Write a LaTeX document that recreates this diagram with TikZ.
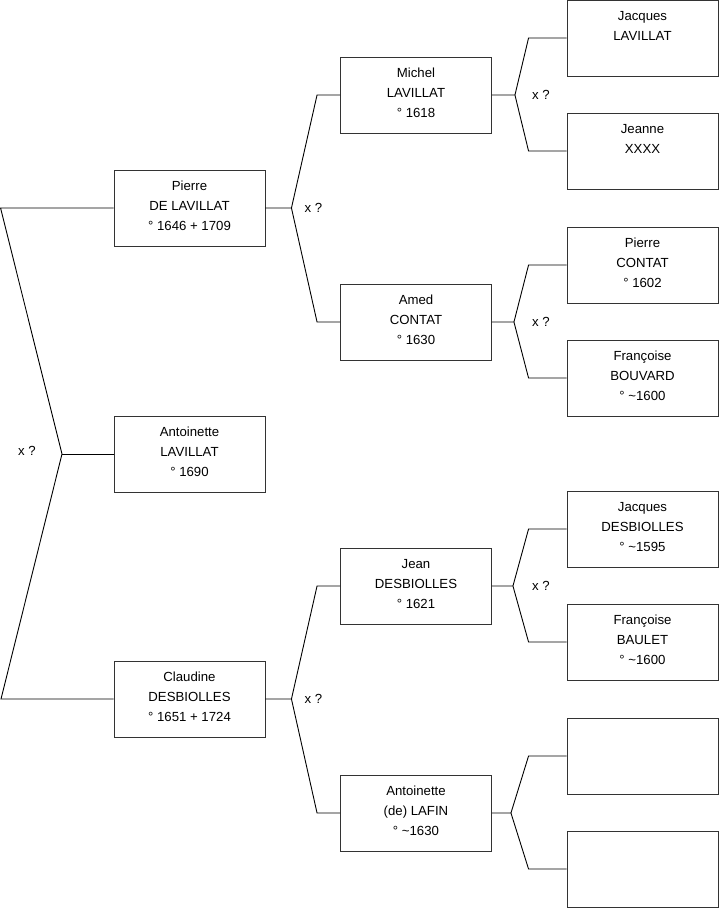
\documentclass[tikz,border=0pt]{standalone}
\usepackage{fontspec}
\setmainfont{Liberation Sans}
\begin{document}
\begin{tikzpicture}[
    x=1pt, y=-1pt,
    every node/.style={font=\fontsize{13.2}{20}\selectfont},
    person/.style={
        draw=black!80, line width=0.9pt,
        minimum width=151pt, minimum height=76pt,
        inner sep=0pt, align=center, fill=white,
        text depth=4pt
    },
    link/.style={line width=0.9pt},
    forklbl/.style={anchor=west, inner sep=0pt}
]
\useasboundingbox (0,0) rectangle (719,908);

% =========================================================
% Generation 1
% =========================================================
\node[person] (pierre) at (189.5,208) {Pierre\\DE LAVILLAT\\° 1646 + 1709};
\node[person] (antoinette) at (189.5,454) {Antoinette\\LAVILLAT\\° 1690};
\node[person] (claudine) at (189.5,699) {Claudine\\DESBIOLLES\\° 1651 + 1724};

% =========================================================
% Generation 2
% =========================================================
\node[person] (michel) at (416,95) {Michel\\LAVILLAT\\° 1618};
\node[person] (amed) at (416,322) {Amed\\CONTAT\\° 1630};
\node[person] (jean) at (416,586) {Jean\\DESBIOLLES\\° 1621};
\node[person] (lafin) at (416,813) {Antoinette\\(de) LAFIN\\° \textasciitilde1630};

% =========================================================
% Generation 3
% =========================================================
\node[person] (jacques) at (642.5,38) {Jacques\\LAVILLAT\\\strut};
\node[person] (jeanne) at (642.5,151) {Jeanne\\XXXX\\\strut};
\node[person] (pcontat) at (642.5,265) {Pierre\\CONTAT\\° 1602};
\node[person] (fbouvard) at (642.5,378) {Françoise\\BOUVARD\\° \textasciitilde1600};
\node[person] (jdesb) at (642.5,529) {Jacques\\DESBIOLLES\\° \textasciitilde1595};
\node[person] (fbaulet) at (642.5,642) {Françoise\\BAULET\\° \textasciitilde1600};
\node[person] (empty1) at (642.5,756) {};
\node[person] (empty2) at (642.5,869) {};

% =========================================================
% Liens
% =========================================================
% Antoinette <- parents
\coordinate (f0) at (62,454);
\draw[link] (pierre.west) -- ++(-113,0) -- (f0) -- ++(-61,245) -- (claudine.west);
\draw[link] (f0) -- (antoinette.west);
\node[forklbl] (x0) at (18,451) {x ?};

% Generation 1 -> 2
\foreach \child/\up/\down in {pierre/michel/amed, claudine/jean/lafin} {
    \draw[link] (\up.west) -- ++(-23,0) -- ([xshift=26]\child.east) -- (\child.east);
    \draw[link] ([xshift=26]\child.east) -- ([xshift=-23]\down.west) -- (\down.west);
    \node[forklbl] at ([xshift=39]\child.east) {x ?};
}

% Generation 2 -> 3
\foreach \child/\up/\down/\fk in {michel/jacques/jeanne/23, amed/pcontat/fbouvard/22,
                                   jean/jdesb/fbaulet/21, lafin/empty1/empty2/19} {
    \draw[link] (\up.west) -- ++(-38,0) -- ([xshift=\fk]\child.east) -- (\child.east);
    \draw[link] ([xshift=\fk]\child.east) -- ([xshift=-38]\down.west) -- (\down.west);
}
\node[forklbl] at ([xshift=40]michel.east) {x ?};
\node[forklbl] at ([xshift=40]amed.east) {x ?};
\node[forklbl] at ([xshift=40]jean.east) {x ?};

\end{tikzpicture}
\end{document}
